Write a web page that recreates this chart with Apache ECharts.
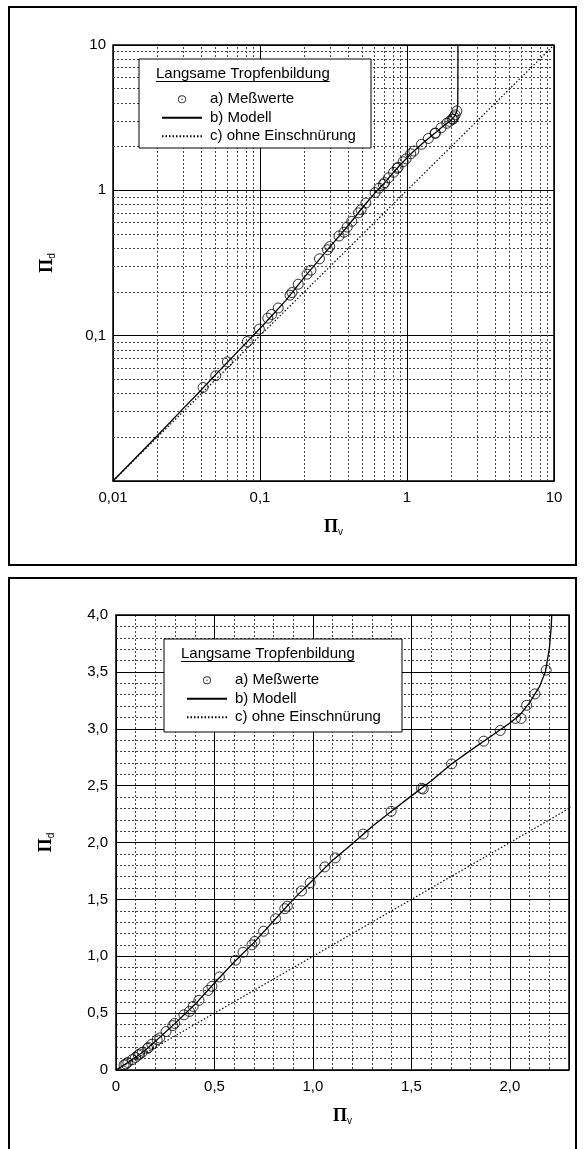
<!DOCTYPE html>
<html><head><meta charset="utf-8">
<script src="https://cdn.jsdelivr.net/npm/echarts@6/dist/echarts.min.js"></script>
<style>html,body{margin:0;padding:0;background:#fff}#c{width:584px;height:1149px}</style>
</head><body><div id="c"></div>
<script>
// ---------- data ----------
const seriesNames = ['a) Meßwerte', 'b) Modell', 'c) ohne Einschnürung'];
const legendTitle = 'Langsame Tropfenbildung';
const measX = [0.041,0.050,0.060,0.082,0.099,0.113,0.120,0.133,0.160,0.165,0.182,0.209,0.222,0.254,0.288,0.298,0.345,0.373,0.392,0.421,0.468,0.487,0.525,0.607,0.645,0.690,0.705,0.749,0.810,0.857,0.870,0.942,0.986,1.060,1.113,1.255,1.397,1.551,1.560,1.704,1.867,1.951,2.028,2.057,2.085,2.127,2.184];
const measY = [0.044,0.053,0.066,0.091,0.111,0.132,0.140,0.155,0.190,0.198,0.226,0.265,0.282,0.338,0.390,0.410,0.485,0.515,0.559,0.612,0.700,0.735,0.818,0.965,1.035,1.100,1.130,1.220,1.330,1.418,1.440,1.574,1.647,1.785,1.865,2.074,2.274,2.476,2.470,2.691,2.891,2.985,3.091,3.091,3.206,3.306,3.515];
const modelX = [0,0.01,0.02,0.03,0.04,0.05,0.07,0.1,0.15,0.2,0.3,0.4,0.5,0.6,0.7,0.8,0.9,1.0,1.1,1.2,1.3,1.4,1.5,1.6,1.7,1.8,1.9,2.0,2.05,2.1,2.15,2.18,2.2,2.21,2.215,2.218,2.22,2.22];
const modelY = [0,0.01,0.0205,0.0315,0.0425,0.054,0.077,0.112,0.175,0.252,0.41,0.575,0.765,0.95,1.12,1.31,1.5,1.67,1.845,1.99,2.14,2.277,2.41,2.54,2.685,2.81,2.93,3.05,3.12,3.23,3.37,3.5,3.7,3.9,4.1,5.0,7.0,10];
const ohneX = [0, 0.01, 10];
const ohneY = [0, 0.01, 10];
// log chart ticks
const logTickVals = [0.01, 0.1, 1, 10];
const logTickLabels = ['0,01', '0,1', '1', '10'];
const logMinorVals = [0.02,0.03,0.04,0.05,0.06,0.07,0.08,0.09,0.2,0.3,0.4,0.5,0.6,0.7,0.8,0.9,2,3,4,5,6,7,8,9];
// linear chart ticks
const linXTickVals = [0, 0.5, 1.0, 1.5, 2.0];
const linXTickLabels = ['0', '0,5', '1,0', '1,5', '2,0'];
const linYTickVals = [0, 0.5, 1.0, 1.5, 2.0, 2.5, 3.0, 3.5, 4.0];
const linYTickLabels = ['0', '0,5', '1,0', '1,5', '2,0', '2,5', '3,0', '3,5', '4,0'];

// ---------- helpers ----------
const zip = (xs, ys, f) => xs.map((x, i) => [x, ys[i]]).filter(p => !f || f(p));
const pos = p => p[0] > 0 && p[1] > 0;
const lab = (vals, labels) => v => { const i = vals.findIndex(t => Math.abs(t - v) < 1e-9 + Math.abs(t) * 1e-6); return i >= 0 ? labels[i] : ''; };
const FONT = 'Liberation Sans';
const FS = 15;
const labelStyle = { color: '#000', fontFamily: FONT, fontSize: FS };
const majorLine = { show: true, lineStyle: { color: '#000', width: 1, type: 'solid' } };
const MINOR = { color: '#444', width: 1, type: [2, 2] };
const minorLine = { show: true, lineStyle: MINOR };
const nameRich = {
  p: { fontFamily: 'Liberation Serif', fontWeight: 'bold', fontSize: 18, color: '#000' },
  s: { fontFamily: FONT, fontSize: 10, color: '#000', padding: [10, 0, 0, 0] }
};
// ring with centre dot (⊙) used as legend icon
const RING_ICON = 'path://M5,0 A5,5 0 1,1 5,10 A5,5 0 1,1 5,0 Z M5,1.1 A3.9,3.9 0 1,0 5,8.9 A3.9,3.9 0 1,0 5,1.1 Z M5,4.1 A0.9,0.9 0 1,1 5,5.9 A0.9,0.9 0 1,1 5,4.1 Z';
function textWidth(t, font) {
  const c = document.createElement('canvas').getContext('2d'); c.font = font; return c.measureText(t).width;
}
function legendData() {
  return [
    { name: seriesNames[0], icon: RING_ICON, itemStyle: { color: '#000', borderWidth: 0 } },
    { name: seriesNames[1], itemStyle: { opacity: 0 } },
    { name: seriesNames[2], itemStyle: { opacity: 0 } }
  ];
}

const G1 = { left: 113, top: 45, width: 441, height: 436 };
const G2 = { left: 116, top: 615, width: 453, height: 455 };

const chart = echarts.init(document.getElementById('c'));
const titleFont = FS + 'px "' + FONT + '"';
const titleW = textWidth(legendTitle, titleFont);

const option = {
  animation: false,
  backgroundColor: '#fff',
  color: ['#000'],
  grid: [
    Object.assign({ show: true, borderColor: '#000', borderWidth: 1.5, backgroundColor: 'transparent' }, G1),
    Object.assign({ show: true, borderColor: '#000', borderWidth: 1.5, backgroundColor: 'transparent' }, G2)
  ],
  xAxis: [
    { type: 'log', logBase: 10, min: 0.01, max: 10, gridIndex: 0, z: 1,
      axisLine: { show: false }, axisTick: { show: false },
      axisLabel: Object.assign({ margin: 9, formatter: lab(logTickVals, logTickLabels) }, labelStyle),
      splitLine: majorLine,
      name: '{p|Π}{s|v}', nameLocation: 'middle', nameGap: 36, nameTextStyle: { rich: nameRich } },
    { type: 'value', min: 0, max: 2.3, interval: 0.5, gridIndex: 1, z: 1,
      axisLine: { show: false }, axisTick: { show: false },
      axisLabel: Object.assign({ margin: 9, showMaxLabel: false, formatter: lab(linXTickVals, linXTickLabels) }, labelStyle),
      splitLine: majorLine,
      name: '{p|Π}{s|v}', nameLocation: 'middle', nameGap: 36, nameTextStyle: { rich: nameRich } },
    { type: 'value', min: 0, max: 2.3, interval: 0.1, gridIndex: 1, z: 0, position: 'bottom',
      axisLine: { show: false }, axisTick: { show: false }, axisLabel: { show: false },
      splitLine: minorLine }
  ],
  yAxis: [
    { type: 'log', logBase: 10, min: 0.01, max: 10, gridIndex: 0, z: 1,
      axisLine: { show: false }, axisTick: { show: false },
      axisLabel: Object.assign({ margin: 7, showMinLabel: false, formatter: lab(logTickVals, logTickLabels) }, labelStyle),
      splitLine: majorLine,
      name: '{p|Π}{s|d}', nameLocation: 'middle', nameGap: 56, nameRotate: 90, nameTextStyle: { rich: nameRich } },
    { type: 'value', min: 0, max: 4, interval: 0.5, gridIndex: 1, z: 1,
      axisLine: { show: false }, axisTick: { show: false },
      axisLabel: Object.assign({ margin: 8, formatter: lab(linYTickVals, linYTickLabels) }, labelStyle),
      splitLine: majorLine,
      name: '{p|Π}{s|d}', nameLocation: 'middle', nameGap: 60, nameRotate: 90, nameTextStyle: { rich: nameRich } },
    { type: 'value', min: 0, max: 4, interval: 0.1, gridIndex: 1, z: 0, position: 'left',
      axisLine: { show: false }, axisTick: { show: false }, axisLabel: { show: false },
      splitLine: minorLine }
  ],
  legend: [
    { data: legendData(),
      orient: 'vertical', left: 156, top: 85, itemWidth: 40, itemHeight: 8, itemGap: 0, z: 10,
      selectedMode: false,
      textStyle: { color: '#000', fontFamily: FONT, fontSize: FS, lineHeight: 18.5, padding: [0, 0, 0, 3] } },
    { data: legendData(),
      orient: 'vertical', left: 181, top: 666, itemWidth: 40, itemHeight: 8, itemGap: 0, z: 10,
      selectedMode: false,
      textStyle: { color: '#000', fontFamily: FONT, fontSize: FS, lineHeight: 18.5, padding: [0, 0, 0, 3] } }
  ],
  graphic: [
    { type: 'rect', shape: { x: 9, y: 7, width: 567, height: 558 }, style: { fill: 'none', stroke: '#000', lineWidth: 2 }, z: 0, silent: true },
    { type: 'rect', shape: { x: 9, y: 578, width: 567, height: 600 }, style: { fill: 'none', stroke: '#000', lineWidth: 2 }, z: 0, silent: true },
    // legend boxes
    { type: 'rect', shape: { x: 139, y: 59, width: 232, height: 89 }, style: { fill: '#fff', stroke: '#000', lineWidth: 1 }, z: 7, silent: true },
    { type: 'rect', shape: { x: 164, y: 639, width: 238, height: 93 }, style: { fill: '#fff', stroke: '#000', lineWidth: 1 }, z: 7, silent: true },
    { type: 'text', x: 156, y: 74, style: { text: legendTitle, fill: '#000', font: titleFont, verticalAlign: 'middle' }, z: 8, silent: true },
    { type: 'line', shape: { x1: 156, y1: 81.5, x2: 156 + titleW, y2: 81.5 }, style: { stroke: '#000', lineWidth: 1 }, z: 8, silent: true },
    { type: 'text', x: 181, y: 654, style: { text: legendTitle, fill: '#000', font: titleFont, verticalAlign: 'middle' }, z: 8, silent: true },
    { type: 'line', shape: { x1: 181, y1: 661.5, x2: 181 + titleW, y2: 661.5 }, style: { stroke: '#000', lineWidth: 1 }, z: 8, silent: true }
  ],
  series: [
    // ---- log chart ----
    { name: 'minorLog', type: 'line', xAxisIndex: 0, yAxisIndex: 0, data: [[0.01, 0.01]], symbol: 'none', lineStyle: { opacity: 0 }, z: 1, silent: true,
      markLine: { silent: true, z: 1, symbol: ['none', 'none'], label: { show: false }, animation: false,
        lineStyle: MINOR,
        data: logMinorVals.map(v => ({ xAxis: v })).concat(logMinorVals.map(v => ({ yAxis: v }))) } },
    { name: seriesNames[2], type: 'line', xAxisIndex: 0, yAxisIndex: 0, data: zip(ohneX, ohneY, pos), symbol: 'none',
      itemStyle: { color: '#000' }, lineStyle: { color: '#000', width: 1.2, type: [1.5, 2] }, z: 2 },
    { name: seriesNames[1], type: 'line', xAxisIndex: 0, yAxisIndex: 0, data: zip(modelX, modelY, pos), symbol: 'none',
      itemStyle: { color: '#000' }, lineStyle: { color: '#000', width: 1.3 }, z: 3 },
    { name: seriesNames[0], type: 'scatter', xAxisIndex: 0, yAxisIndex: 0, data: zip(measX, measY, pos), symbol: 'circle', symbolSize: 10,
      itemStyle: { color: 'rgba(255,255,255,0)', borderColor: '#000', borderWidth: 1 }, z: 4 },
    // ---- linear chart ----
    { name: seriesNames[2], type: 'line', xAxisIndex: 1, yAxisIndex: 1, data: zip(ohneX, ohneY), symbol: 'none',
      itemStyle: { color: '#000' }, lineStyle: { color: '#000', width: 1.2, type: [1.5, 2] }, z: 2 },
    { name: seriesNames[1], type: 'line', xAxisIndex: 1, yAxisIndex: 1, data: zip(modelX, modelY), symbol: 'none',
      itemStyle: { color: '#000' }, lineStyle: { color: '#000', width: 1.3 }, z: 3 },
    { name: seriesNames[0], type: 'scatter', xAxisIndex: 1, yAxisIndex: 1, data: zip(measX, measY), symbol: 'circle', symbolSize: 10,
      itemStyle: { color: 'rgba(255,255,255,0)', borderColor: '#000', borderWidth: 1 }, z: 4 }
  ]
};
chart.setOption(option);
</script></body></html>
